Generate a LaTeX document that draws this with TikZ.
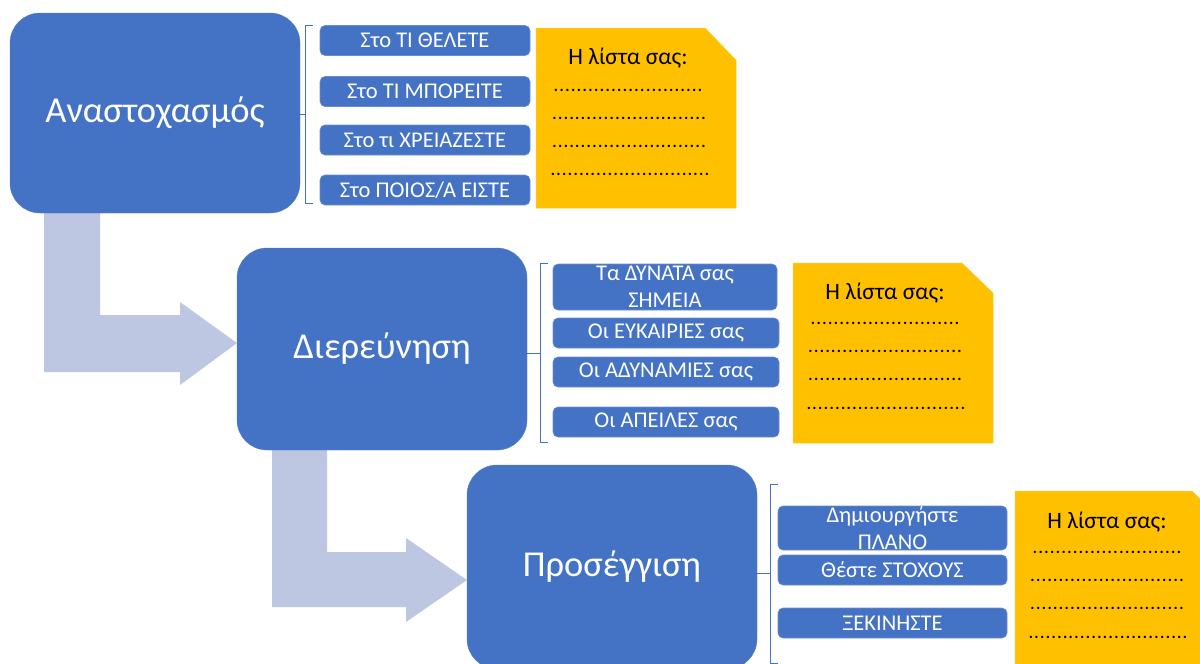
\documentclass[tikz,border=0pt]{standalone}
\usepackage{fontspec}
\setmainfont{Carlito}
\definecolor{boxblue}{HTML}{4472C4}
\definecolor{arrowblue}{HTML}{BDC7E2}
\definecolor{noteyellow}{HTML}{FFC000}
\tikzset{
  bigbox/.style={fill=boxblue, draw=boxblue!90!white, rounded corners=30pt, minimum width=290pt, minimum height=200pt, text=white, font=\fontsize{36.5}{40}\selectfont, inner sep=0pt},
  smallbox/.style={fill=boxblue, draw=boxblue!80!white, line width=0.6pt, rounded corners=5pt, minimum height=30pt, inner sep=0pt},
  smalltext/.style={text=white, font=\fontsize{22.5}{27}\selectfont, align=center, inner sep=0pt},
  notetitle/.style={font=\fontsize{23.5}{26}\selectfont, inner sep=0pt},
  dotline/.style={inner sep=0pt, font=\fontsize{16}{18}\selectfont\bfseries},
  bracketline/.style={draw=boxblue, line width=1pt},
  bentarrow/.style={fill=arrowblue},
  notefill/.style={fill=noteyellow, draw=noteyellow!80!white, line width=0.5pt}
}
\newcommand{\dotrow}[1]{\makebox[#1]{\xleaders\hbox to 5.6pt{\hss.\hss}\hfill}}
\begin{document}
\begin{tikzpicture}[x=1pt,y=-1pt]
\useasboundingbox (0,0) rectangle (1200,664);
\clip (0,0) rectangle (1200,664);
% bent arrows
\path[bentarrow] (44,200) -- (100,200) -- (100,315) -- (180,315) -- (180,302) -- (237,343) -- (180,385) -- (180,372) -- (44,372) -- cycle;
\path[bentarrow] (272,440) -- (327,440) -- (327,552) -- (406,552) -- (406,538) -- (467,580) -- (406,622) -- (406,607) -- (272,607) -- cycle;
% big boxes
\node[bigbox] (b1) at (155,113) {Αναστοχασμός};
\node[bigbox, minimum height=202pt] (b2) at (382,349) {Διερεύνηση};
\node[bigbox, minimum height=204pt] (b3) at (612,567) {Προσέγγιση};
% brackets
\coordinate (k1) at (305,114);
\draw[bracketline] (313,25) -- (305,25) -- (305,203) -- (313,203);
\draw[bracketline] (b1.east |- k1) -- (k1);
\coordinate (k2) at (540,353);
\draw[bracketline] (548,263) -- (540,263) -- (540,442) -- (548,442);
\draw[bracketline] (b2.east |- k2) -- (k2);
\coordinate (k3) at (770,573);
\draw[bracketline] (778,484) -- (770,484) -- (770,663) -- (778,663);
\draw[bracketline] (b3.east |- k3) -- (k3);
% column 1
\node[smallbox, minimum width=210pt] (a1) at (425,40.5) {};
\node[smalltext] at (a1) {Στο ΤΙ ΘΕΛΕΤΕ};
\node[smallbox, minimum width=210pt] (a2) at (425,91.5) {};
\node[smalltext] at (a2) {Στο ΤΙ ΜΠΟΡΕΙΤΕ};
\node[smallbox, minimum width=210pt] (a3) at (425,140) {};
\node[smalltext] at (a3) {Στο τι ΧΡΕΙΑΖΕΣΤΕ};
\node[smallbox, minimum width=210pt] (a4) at (425,190) {};
\node[smalltext] at (a4) {Στο ΠΟΙΟΣ/Α ΕΙΣΤΕ};
% column 2
\node[smallbox, minimum width=224pt, minimum height=46pt] (c1) at (665,287) {};
\node[smalltext] at (c1) {Τα ΔΥΝΑΤΑ σας\\ΣΗΜΕΙΑ};
\node[smallbox, minimum width=226pt] (c2) at (666,333) {};
\node[smalltext] at (c2) {Οι ΕΥΚΑΙΡΙΕΣ σας};
\node[smallbox, minimum width=226pt] (c3) at (666,372) {};
\node[smalltext] at (c3) {Οι ΑΔΥΝΑΜΙΕΣ σας};
\node[smallbox, minimum width=226pt] (c4) at (666,422) {};
\node[smalltext] at (c4) {Οι ΑΠΕΙΛΕΣ σας};
% column 3
\node[smallbox, minimum width=229pt, minimum height=44pt] (d1) at (892.5,528) {};
\node[smalltext] at (d1) {Δημιουργήστε\\ΠΛΑΝΟ};
\node[smallbox, minimum width=229pt] (d2) at (892.5,570) {};
\node[smalltext] at (d2) {Θέστε ΣΤΟΧΟΥΣ};
\node[smallbox, minimum width=229pt] (d3) at (892.5,623) {};
\node[smalltext] at (d3) {ΞΕΚΙΝΗΣΤΕ};
% notes
\path[notefill] (536,28) -- (705,28) -- (736,60) -- (736,208) -- (536,208) -- cycle;
\node[notetitle] (n1) at (628,58) {Η λίστα σας:};
\node[dotline] (n1a) at (628,90) {\dotrow{150pt}};
\node[dotline] (n1b) at (629,118) {\dotrow{155pt}};
\node[dotline] (n1c) at (629,146) {\dotrow{155pt}};
\node[dotline] (n1d) at (630,174) {\dotrow{160pt}};
\path[notefill] (793,263) -- (962,263) -- (993,293) -- (993,443) -- (793,443) -- cycle;
\node[notetitle] (n2) at (885,293) {Η λίστα σας:};
\node[dotline] (n2a) at (885,323) {\dotrow{150pt}};
\node[dotline] (n2b) at (885,351) {\dotrow{155pt}};
\node[dotline] (n2c) at (885,379) {\dotrow{155pt}};
\node[dotline] (n2d) at (886,408) {\dotrow{160pt}};
\path[notefill] (1015,491) -- (1192,491) -- (1223,522) -- (1223,690) -- (1015,690) -- cycle;
\node[notetitle] (n3) at (1107,522) {Η λίστα σας:};
\node[dotline] (n3a) at (1107,552) {\dotrow{150pt}};
\node[dotline] (n3b) at (1107,580) {\dotrow{155pt}};
\node[dotline] (n3c) at (1107,608) {\dotrow{155pt}};
\node[dotline] (n3d) at (1108,637) {\dotrow{160pt}};
\end{tikzpicture}
\end{document}
